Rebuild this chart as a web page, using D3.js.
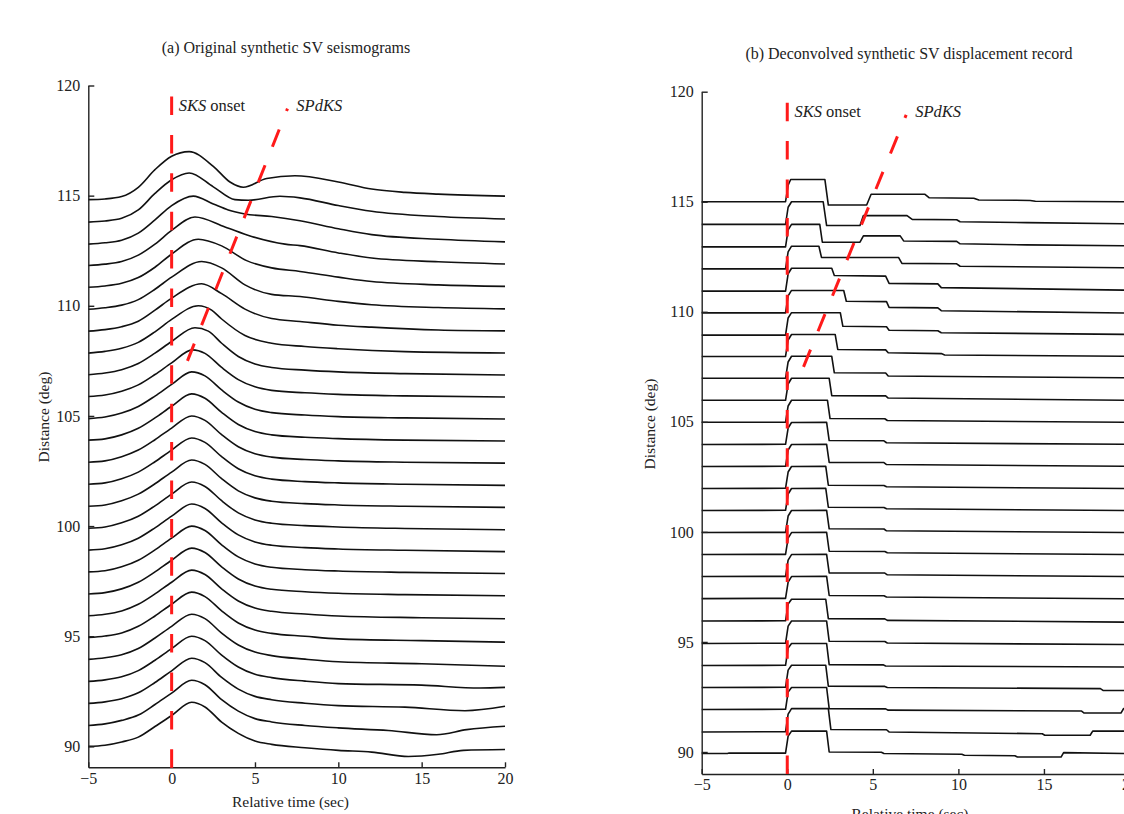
<!DOCTYPE html>
<html><head><meta charset="utf-8">
<script src="https://cdn.jsdelivr.net/npm/d3@7"></script>
<style>
body{margin:0;background:#fff;overflow:hidden}
svg{display:block;font-family:"Liberation Serif","Times New Roman",serif}
</style></head><body>
<svg id="c" width="1124" height="814"></svg>
<script>
// ---------- data ----------
const distances = [90,91,92,93,94,95,96,97,98,99,100,101,102,103,104,105,106,107,108,109,110,111,112,113,114,115];
const xTicks = [-5,0,5,10,15,20];
const yTicks = [90,95,100,105,110,115,120];
const titles = ["(a) Original synthetic SV seismograms","(b) Deconvolved synthetic SV displacement record"];
const xLabel = "Relative time (sec)";
const yLabel = "Distance (deg)";

// (a) original seismograms: [time (s), amplitude (deg)] control points
const seisA = {
 90:[[-5,0],[-4,0.05],[-3,0.2],[-2,0.42],[-1,0.9],[0,1.4],[1.2,2.0],[2,1.79],[3,1.1],[4,0.59],[5,0.24],[6,0.09],[8,-0.06],[10,-0.18],[12,-0.26],[14.2,-0.46],[16,-0.36],[17.5,-0.18],[20,-0.14]],
 91:[[-5,-0.05],[-4,0.02],[-3,0.18],[-2,0.42],[-1,0.9],[0,1.42],[1.2,2.0],[2,1.8],[3,1.12],[4,0.6],[5,0.26],[6,0.11],[8,-0.05],[10,-0.16],[13,-0.28],[15.9,-0.47],[17.7,-0.24],[20,-0.09]],
 92:[[-5,-0.05],[-4,0.02],[-3,0.16],[-2,0.43],[-1,0.9],[0,1.43],[1.2,2.0],[2,1.8],[3,1.13],[4,0.6],[5,0.27],[6,0.12],[8,-0.04],[10,-0.15],[14,-0.22],[17.6,-0.38],[20,-0.18]],
 93:[[-5,-0.05],[-4,0.02],[-3,0.16],[-2,0.44],[-1,0.91],[0,1.44],[1.2,2.0],[2,1.8],[3,1.14],[4,0.6],[5,0.27],[6,0.12],[8,-0.04],[10,-0.15],[15,-0.22],[18.5,-0.35],[20,-0.32]],
 94:[[-5,-0.05],[-4,0.02],[-3,0.16],[-2,0.44],[-1,0.92],[0,1.45],[1.2,2.0],[2,1.8],[3,1.14],[4,0.6],[5,0.28],[6,0.12],[8,-0.04],[10,-0.16],[15,-0.25],[20,-0.36]],
 95:[[-5,-0.06],[-4,0.01],[-3,0.15],[-2,0.45],[-1,0.92],[0,1.45],[1.2,2.0],[2,1.8],[3,1.15],[4,0.6],[5,0.28],[6,0.13],[8,0],[10,-0.12],[15,-0.2],[20,-0.27]],
 96:[[-5,-0.07],[-4,0],[-3,0.15],[-2,0.45],[-1,0.92],[0,1.45],[1.2,2.0],[2,1.8],[3,1.15],[4,0.6],[5,0.28],[6,0.13],[8,0.01],[10,-0.08],[15,-0.16],[20,-0.21]],
 97:[[-5,-0.08],[-4,-0.02],[-3,0.15],[-2,0.45],[-1,0.92],[0,1.45],[1.2,2.0],[2,1.8],[3,1.15],[4,0.6],[5,0.28],[6,0.13],[8,0.02],[10,-0.05],[14,-0.11],[20,-0.16]],
 98:[[-5,-0.08],[-4,-0.03],[-3,0.15],[-2,0.45],[-1,0.92],[0,1.45],[1.2,2.0],[2,1.8],[3,1.15],[4,0.6],[5,0.28],[6,0.13],[8,0.02],[10,-0.04],[14,-0.1],[20,-0.15]],
 99:[[-5,-0.09],[-4,-0.03],[-3,0.15],[-2,0.45],[-1,0.92],[0,1.45],[1.2,2.0],[2,1.8],[3,1.15],[4,0.6],[5,0.28],[6,0.13],[8,0.02],[10,-0.04],[14,-0.1],[20,-0.16]],
 100:[[-5,-0.1],[-4,-0.04],[-3,0.15],[-2,0.45],[-1,0.92],[0,1.45],[1.2,2.0],[2,1.8],[3,1.15],[4,0.6],[5,0.28],[6,0.13],[8,0.02],[10,-0.04],[14,-0.11],[20,-0.17]],
 101:[[-5,-0.1],[-4,-0.04],[-3,0.15],[-2,0.45],[-1,0.92],[0,1.45],[1.2,2.0],[2,1.8],[3,1.15],[4,0.6],[5,0.28],[6,0.13],[8,0.02],[10,-0.04],[14,-0.1],[20,-0.15]],
 102:[[-5,-0.1],[-4,-0.04],[-3,0.15],[-2,0.45],[-1,0.92],[0,1.45],[1.2,2.0],[2,1.8],[3,1.15],[4,0.6],[5,0.28],[6,0.13],[8,0.02],[10,-0.04],[14,-0.1],[20,-0.15]],
 103:[[-5,-0.1],[-4,-0.04],[-3,0.15],[-2,0.45],[-1,0.92],[0,1.45],[1.2,2.0],[2,1.8],[3,1.15],[4,0.6],[5,0.28],[6,0.13],[8,0.02],[10,-0.04],[14,-0.1],[20,-0.14]],
 104:[[-5,-0.1],[-4,-0.04],[-3,0.14],[-2,0.44],[-1,0.91],[0,1.44],[1.2,2.0],[2,1.8],[3,1.16],[4,0.61],[5,0.29],[6,0.14],[8,0.03],[10,-0.03],[14,-0.1],[20,-0.14]],
 105:[[-5,-0.12],[-4,-0.05],[-3,0.13],[-2,0.43],[-1,0.9],[0,1.43],[1.2,2.0],[2,1.82],[3,1.18],[4,0.63],[5,0.3],[6,0.15],[8,0.04],[10,-0.03],[14,-0.09],[20,-0.14]],
 106:[[-5,-0.12],[-4,-0.05],[-3,0.12],[-2,0.41],[-1,0.88],[0,1.41],[1.25,2.0],[2,1.84],[3,1.2],[4,0.65],[5,0.32],[6,0.16],[8,0.05],[10,-0.02],[14,-0.09],[20,-0.14]],
 107:[[-5,-0.13],[-4,-0.05],[-3,0.1],[-2,0.38],[-1,0.85],[0,1.38],[1.4,2.0],[2.2,1.85],[3,1.3],[4,0.7],[5,0.36],[6,0.2],[8,0.08],[10,0],[14,-0.08],[20,-0.14]],
 108:[[-5,-0.15],[-4,-0.07],[-3,0.07],[-2,0.34],[-1,0.82],[0,1.38],[1.6,2.0],[2.4,1.8],[3,1.4],[4.4,0.65],[6,0.3],[8,0.15],[10,0.05],[14,-0.08],[20,-0.14]],
 109:[[-5,-0.15],[-4,-0.08],[-3,0.05],[-2,0.3],[-1,0.8],[0,1.35],[1.8,2.0],[3,1.55],[4.4,0.85],[6,0.42],[7.7,0.29],[10,0.12],[12,0.03],[16,-0.1],[20,-0.14]],
 110:[[-5,-0.16],[-4,-0.09],[-3,0.03],[-2,0.28],[-1,0.75],[0,1.3],[1.8,2.01],[3,1.72],[4.4,0.95],[6,0.52],[7.7,0.42],[10,0.2],[12,0.05],[16,-0.08],[20,-0.14]],
 111:[[-5,-0.16],[-4,-0.1],[-3,0.02],[-2,0.28],[-1,0.75],[0,1.35],[1.6,2.02],[3,1.72],[4.5,1.05],[6,0.72],[7.7,0.56],[10,0.3],[12,0.1],[16,-0.05],[20,-0.12]],
 112:[[-5,-0.17],[-4,-0.11],[-3,0.01],[-2,0.3],[-1,0.8],[0,1.42],[1.4,2.03],[3.2,1.58],[4.8,1.15],[6.8,0.8],[7.7,0.73],[10,0.4],[12,0.17],[16,0],[20,-0.1]],
 113:[[-5,-0.2],[-4,-0.14],[-3,-0.02],[-2,0.3],[-1,0.9],[0,1.55],[1.3,1.98],[2.5,1.62],[3.4,1.35],[4.4,1.17],[6,1.05],[7.7,0.86],[10,0.5],[12,0.23],[16,0.02],[20,-0.1]],
 114:[[-5,-0.2],[-4,-0.15],[-3,-0.03],[-2,0.35],[-1,1.1],[0,1.72],[1.05,2.03],[2.5,1.4],[3.8,0.82],[4.6,0.79],[6.5,0.97],[7.7,0.9],[10,0.55],[12,0.29],[16,0.05],[20,-0.06]],
 115:[[-5,-0.18],[-4,-0.15],[-3,-0.04],[-2,0.38],[-1,1.18],[0,1.79],[1.05,2.0],[2.5,1.33],[3.5,0.62],[4.3,0.38],[5.7,0.78],[7.4,0.9],[10,0.62],[12,0.3],[14,0.15],[16,0.07],[20,-0.02]]
};

// (b) deconvolved displacement: [time (s), amplitude (deg)] corner points
const seisB = {
 90:[[-5,-0.07],[-3.5,-0.07],[-3.4,-0.05],[-0.1,-0.05],[0.05,0.72],[0.25,0.95],[2.3,0.95],[2.45,0],[5.5,-0.01],[5.65,-0.07],[10.2,-0.1],[10.35,-0.15],[13.3,-0.17],[13.45,-0.23],[16,-0.23],[16.15,-0.03],[20,-0.07]],
 91:[[-5,-0.09],[-0.1,-0.08],[0.05,0.72],[0.25,0.97],[2.4,0.97],[2.55,0.02],[5.8,0.01],[5.95,-0.09],[14.9,-0.17],[15.05,-0.24],[17.7,-0.24],[17.85,-0.05],[20,-0.05]],
 92:[[-5,-0.07],[-0.1,-0.06],[0.05,0.72],[0.25,0.93],[2.3,0.93],[2.45,-0.03],[5.75,-0.04],[5.9,-0.1],[17.2,-0.14],[17.35,-0.23],[19.5,-0.23],[19.65,-0.03],[20,-0.03]],
 93:[[-5,-0.07],[-0.1,-0.06],[0.05,0.72],[0.25,0.94],[2.25,0.94],[2.4,-0.01],[5.7,-0.02],[5.85,-0.07],[18.3,-0.12],[18.45,-0.2],[20,-0.21]],
 94:[[-5,-0.07],[-0.1,-0.06],[0.05,0.72],[0.25,0.93],[2.3,0.93],[2.45,-0.03],[5.6,-0.04],[5.75,-0.09],[20,-0.14]],
 95:[[-5,-0.07],[-0.1,-0.06],[0.05,0.72],[0.25,0.95],[2.3,0.95],[2.45,0.03],[5.7,0.02],[5.85,-0.05],[20,-0.12]],
 96:[[-5,-0.05],[-0.1,-0.04],[0.05,0.72],[0.25,0.94],[2.25,0.94],[2.4,0.06],[5.7,0.05],[5.85,-0.02],[20,-0.1]],
 97:[[-5,-0.03],[-0.1,-0.02],[0.05,0.72],[0.25,0.97],[2.3,0.98],[2.45,0.11],[5.65,0.1],[5.8,0.04],[20,-0.04]],
 98:[[-5,-0.03],[-0.1,-0.02],[0.05,0.72],[0.25,0.97],[2.3,0.98],[2.45,0.14],[5.7,0.13],[5.85,0.05],[20,-0.03]],
 99:[[-5,-0.03],[-0.1,-0.02],[0.05,0.72],[0.25,0.97],[2.3,0.98],[2.45,0.12],[5.7,0.11],[5.85,0.05],[20,-0.03]],
 100:[[-5,-0.03],[-0.1,-0.02],[0.05,0.72],[0.25,0.97],[2.3,0.98],[2.45,0.14],[5.65,0.13],[5.8,0.05],[20,-0.03]],
 101:[[-5,-0.03],[-0.1,-0.02],[0.05,0.72],[0.25,0.97],[2.25,0.98],[2.4,0.12],[5.65,0.11],[5.8,0.05],[20,-0.03]],
 102:[[-5,-0.03],[-0.1,-0.02],[0.05,0.72],[0.25,0.97],[2.25,0.98],[2.4,0.12],[5.65,0.11],[5.8,0.05],[20,-0.03]],
 103:[[-5,-0.03],[-0.1,-0.02],[0.05,0.72],[0.25,0.97],[2.3,0.98],[2.45,0.16],[5.65,0.15],[5.8,0.06],[20,-0.02]],
 104:[[-5,-0.03],[-0.1,-0.02],[0.05,0.72],[0.25,0.97],[2.3,0.98],[2.45,0.15],[5.65,0.14],[5.8,0.05],[20,-0.02]],
 105:[[-5,-0.02],[-0.1,-0.02],[0.05,0.72],[0.25,0.98],[2.35,0.98],[2.5,0.15],[5.7,0.14],[5.85,0.06],[20,-0.02]],
 106:[[-5,-0.02],[-0.1,-0.02],[0.05,0.72],[0.25,0.98],[2.45,0.98],[2.6,0.19],[5.75,0.18],[5.9,0.08],[20,-0.02]],
 107:[[-5,-0.02],[-0.1,-0.02],[0.05,0.72],[0.25,0.98],[2.6,0.98],[2.75,0.23],[5.75,0.22],[5.9,0.08],[20,0]],
 108:[[-5,-0.03],[-0.1,-0.03],[0.05,0.72],[0.25,0.97],[2.8,0.97],[2.95,0.29],[5.75,0.27],[5.9,0.14],[9,0.1],[9.2,0.04],[20,-0.02]],
 109:[[-5,-0.06],[-0.1,-0.06],[0.05,0.72],[0.25,0.96],[3.1,0.96],[3.25,0.34],[5.8,0.32],[5.95,0.16],[8.8,0.14],[9,0.05],[20,-0.03]],
 110:[[-5,-0.05],[-0.1,-0.05],[0.05,0.72],[0.25,0.97],[3.3,0.97],[3.45,0.48],[5.8,0.46],[5.95,0.2],[8.8,0.18],[9,0.05],[20,-0.06]],
 111:[[-5,-0.06],[-0.1,-0.06],[0.05,0.72],[0.25,0.98],[2.6,0.98],[2.75,0.65],[5.75,0.62],[5.95,0.29],[8.8,0.27],[9,0.1],[20,-0.02]],
 112:[[-5,-0.05],[-0.1,-0.05],[0.05,0.72],[0.25,0.98],[1.85,0.98],[2,0.47],[6.5,0.47],[6.7,0.2],[9.9,0.18],[10.1,0.07],[20,0]],
 113:[[-5,-0.05],[-0.1,-0.05],[0.05,0.72],[0.25,0.97],[1.9,0.97],[2.05,0.16],[4.25,0.16],[4.45,0.45],[6.6,0.45],[6.8,0.22],[9.9,0.2],[10.1,0.09],[14,0.04],[20,0]],
 114:[[-5,-0.03],[-0.1,-0.03],[0.05,0.75],[0.25,1.0],[2.1,1.0],[2.3,-0.08],[4.25,-0.08],[4.45,0.37],[7,0.37],[7.3,0.2],[9.9,0.18],[10.1,0.09],[14,0.05],[20,0]],
 115:[[-5,0],[-0.1,0],[0.05,0.75],[0.2,1.01],[2.2,1.01],[2.4,-0.15],[4.64,-0.15],[4.9,0.34],[8.05,0.34],[8.3,0.18],[10.9,0.16],[11.2,0.08],[14.2,0.06],[14.5,0.02],[20,0]]
};

// annotations (time, distance)
const sksLine = [[0,119.5],[0,89]];
const spdksLine = [[0.95,107.5],[6.95,118.95]];
const sksLabelPos = [0.42,118.83];
const spdksLabelPos = [7.48,118.83];

// ---------- drawing ----------
const svg = d3.select("#c");
const panels = [
  {data:seisA, x:d3.scaleLinear([-5,20],[88.3,505]), y:d3.scaleLinear([89.05,120],[767.3,85.5]),
   curve:d3.curveMonotoneX, title:titles[0], titleXY:[286,53],
   xlabXY:[290.5,806.5], ylabXY:[49,417]},
  {data:seisB, x:d3.scaleLinear([-5,20],[701.7,1129.5]), y:d3.scaleLinear([89,120],[774,91.7]),
   curve:d3.curveLinear, title:titles[1], titleXY:[909,59],
   xlabXY:[910,819], ylabXY:[655,424]}
];

panels.forEach(p => {
  const g = svg.append("g");
  const {x, y} = p;
  // traces
  const line = d3.line().x(d => x(d[0])).y(d => y(d[1])).curve(p.curve);
  distances.forEach(dist => {
    const pts = p.data[dist].map(([t,a]) => [t, dist + a]);
    g.append("path").attr("d", line(pts)).attr("fill","none")
      .attr("stroke","#111").attr("stroke-width",1.6).attr("stroke-linejoin","round");
  });
  // axes
  const xa = g.append("g").attr("transform",`translate(0,${y.range()[0]})`)
    .call(d3.axisBottom(x).tickValues(xTicks).tickSizeInner(-5).tickSizeOuter(0).tickPadding(5));
  const ya = g.append("g").attr("transform",`translate(${x.range()[0]},0)`)
    .call(d3.axisLeft(y).tickValues(yTicks).tickSizeInner(-6).tickSizeOuter(0).tickPadding(8));
  [xa, ya].forEach(a => {
    a.attr("font-family", null).attr("font-size", null);
    a.selectAll("path,line").attr("stroke","#222").attr("stroke-width",1.4);
    a.selectAll("text").attr("font-size",16).attr("fill","#222");
  });
  // red dashed markers
  const sl = d3.line().x(d => x(d[0])).y(d => y(d[1]));
  [sksLine, spdksLine].forEach(L => {
    g.append("path").attr("d", sl(L)).attr("fill","none").attr("stroke","#ff1a1a")
      .attr("stroke-width",3).attr("stroke-dasharray","18.5,19.9");
  });
  // labels
  const t1 = g.append("text").attr("x", x(sksLabelPos[0])).attr("y", y(sksLabelPos[1])).attr("font-size",16.5).attr("fill","#222");
  t1.append("tspan").attr("font-style","italic").text("SKS");
  t1.append("tspan").text(" onset");
  g.append("text").attr("x", x(spdksLabelPos[0])).attr("y", y(spdksLabelPos[1])).attr("font-size",16.5)
    .attr("font-style","italic").attr("fill","#222").text("SPdKS");
  // titles
  g.append("text").attr("x",p.titleXY[0]).attr("y",p.titleXY[1]).attr("text-anchor","middle")
    .attr("font-size",16).attr("fill","#222").text(p.title);
  g.append("text").attr("x",p.xlabXY[0]).attr("y",p.xlabXY[1]).attr("text-anchor","middle")
    .attr("font-size",15.5).attr("fill","#222").text(xLabel);
  g.append("text").attr("transform",`translate(${p.ylabXY[0]},${p.ylabXY[1]}) rotate(-90)`)
    .attr("text-anchor","middle").attr("font-size",15.5).attr("fill","#222").text(yLabel);
});
</script>
</body></html>
